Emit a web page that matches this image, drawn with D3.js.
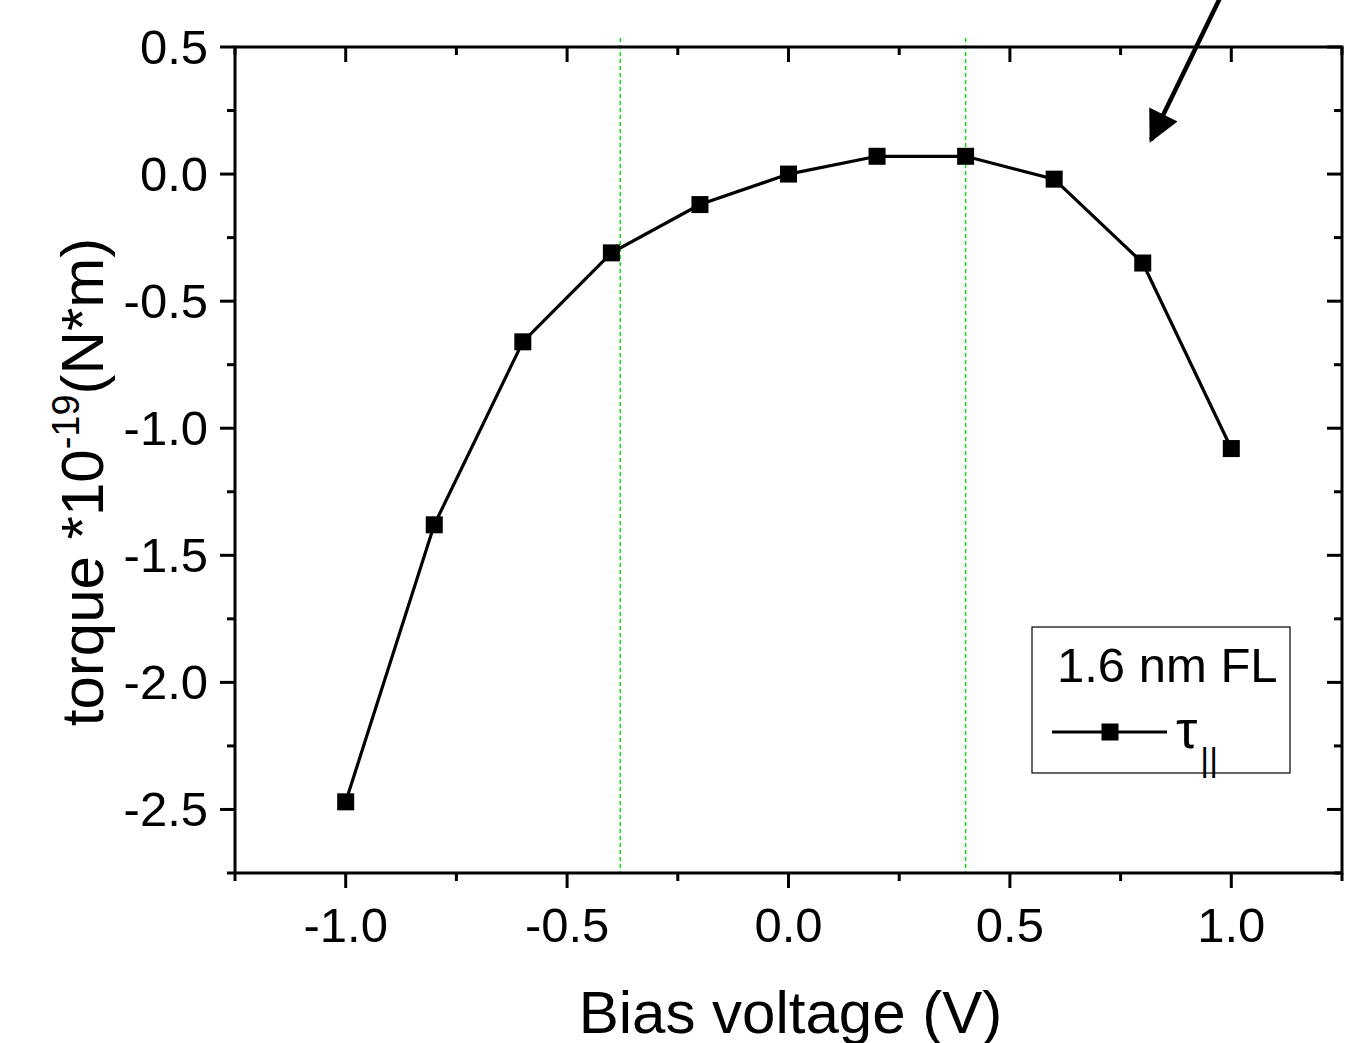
<!DOCTYPE html>
<html>
<head>
<meta charset="utf-8">
<script src="https://cdn.jsdelivr.net/npm/d3@7"></script>
<style>
  body { margin: 0; background: #fff; }
  text { font-family: "Liberation Sans", Arial, sans-serif; fill: #000; }
</style>
</head>
<body>
<div id="chart"></div>
<script>
var biasVoltage = [-1.0, -0.8, -0.6, -0.4, -0.2, 0.0, 0.2, 0.4, 0.6, 0.8, 1.0];
var torque = [-2.47, -1.38, -0.66, -0.31, -0.12, 0.0, 0.07, 0.07, -0.02, -0.35, -1.08];
var markerLines = [-0.38, 0.40];
var xTicks = [-1.0, -0.5, 0.0, 0.5, 1.0];
var yTicks = [0.5, 0.0, -0.5, -1.0, -1.5, -2.0, -2.5];

var width = 1363, height = 1043;
var margin = { top: 47, right: 21, bottom: 170, left: 235 };

var svg = d3.select("#chart").append("svg")
    .attr("width", width)
    .attr("height", height);

var x = d3.scaleLinear().domain([-1.25, 1.25]).range([margin.left, width - margin.right]);
var y = d3.scaleLinear().domain([-2.75, 0.5]).range([height - margin.bottom, margin.top]);

var x0 = x.range()[0], x1 = x.range()[1], y0 = y.range()[0], y1 = y.range()[1];

// green dashed guide lines
svg.selectAll("line.guide")
    .data(markerLines)
    .enter().append("line")
    .attr("class", "guide")
    .attr("x1", d => x(d)).attr("x2", d => x(d))
    .attr("y1", y1 - 9).attr("y2", y0)
    .attr("stroke", "#00e000")
    .attr("stroke-width", 1.4)
    .attr("stroke-dasharray", "4,3");

// frame
svg.append("rect")
    .attr("x", x0).attr("y", y1)
    .attr("width", x1 - x0).attr("height", y0 - y1)
    .attr("fill", "none").attr("stroke", "#000").attr("stroke-width", 3);

var xMinor = d3.range(-1.25, 1.2501, 0.25).filter(v => Math.abs(Math.round(v * 2) - v * 2) > 1e-6);
var yMinor = d3.range(-2.75, 0.5001, 0.25).filter(v => Math.abs(Math.round(v * 2) - v * 2) > 1e-6);

function tickSet(data, len, kind) {
    // bottom: outward, top: inward, left: outward, right: inward
    data.forEach(function (v) {
        if (kind === "x") {
            svg.append("line").attr("x1", x(v)).attr("x2", x(v)).attr("y1", y0).attr("y2", y0 + len)
                .attr("stroke", "#000").attr("stroke-width", 3);
            svg.append("line").attr("x1", x(v)).attr("x2", x(v)).attr("y1", y1).attr("y2", y1 + len)
                .attr("stroke", "#000").attr("stroke-width", 3);
        } else {
            svg.append("line").attr("y1", y(v)).attr("y2", y(v)).attr("x1", x0).attr("x2", x0 - len)
                .attr("stroke", "#000").attr("stroke-width", 3);
            svg.append("line").attr("y1", y(v)).attr("y2", y(v)).attr("x1", x1).attr("x2", x1 - len)
                .attr("stroke", "#000").attr("stroke-width", 3);
        }
    });
}
tickSet(xTicks, 15, "x");
tickSet(xMinor, 8, "x");
tickSet(yTicks, 15, "y");
tickSet(yMinor, 8, "y");

// tick labels
var fmt = d => d3.format(".1f")(d).replace("−", "-");
svg.selectAll("text.xt")
    .data(xTicks)
    .enter().append("text")
    .attr("x", d => x(d))
    .attr("y", 942)
    .attr("text-anchor", "middle")
    .style("font-size", "49px")
    .text(fmt);

svg.selectAll("text.yt")
    .data(yTicks)
    .enter().append("text")
    .attr("x", x0 - 27)
    .attr("y", d => y(d) + 17)
    .attr("text-anchor", "end")
    .style("font-size", "49px")
    .text(fmt);

// axis titles
svg.append("text")
    .attr("x", (x0 + x1) / 2 + 2)
    .attr("y", 1033)
    .attr("text-anchor", "middle")
    .style("font-size", "60px")
    .text("Bias voltage (V)");

var yt = svg.append("text")
    .attr("transform", "translate(103," + 482 + ") rotate(-90)")
    .attr("text-anchor", "middle")
    .style("font-size", "60px");
yt.append("tspan").text("torque *10");
yt.append("tspan").attr("dy", -24).style("font-size", "38px").text("-19");
yt.append("tspan").attr("dy", 24).text("(N*m)");

// data line and markers
var pts = biasVoltage.map((v, i) => [v, torque[i]]);
svg.append("path")
    .datum(pts)
    .attr("fill", "none")
    .attr("stroke", "#000")
    .attr("stroke-width", 3.2)
    .attr("d", d3.line().x(d => x(d[0])).y(d => y(d[1])));

var ms = 17;
svg.selectAll("rect.pt")
    .data(pts)
    .enter().append("rect")
    .attr("class", "pt")
    .attr("x", d => x(d[0]) - ms / 2)
    .attr("y", d => y(d[1]) - ms / 2)
    .attr("width", ms).attr("height", ms)
    .attr("fill", "#000");

// legend
var lg = svg.append("g");
lg.append("rect")
    .attr("x", 1032).attr("y", 627)
    .attr("width", 258).attr("height", 146)
    .attr("fill", "#fff").attr("stroke", "#000").attr("stroke-width", 1.2);
lg.append("text")
    .attr("x", 1057).attr("y", 682)
    .style("font-size", "49px")
    .text("1.6 nm FL");
lg.append("line")
    .attr("x1", 1052).attr("x2", 1167).attr("y1", 732).attr("y2", 732)
    .attr("stroke", "#000").attr("stroke-width", 3.2);
lg.append("rect")
    .attr("x", 1110 - ms / 2).attr("y", 732 - ms / 2)
    .attr("width", ms).attr("height", ms).attr("fill", "#000");
var tau = lg.append("text")
    .attr("x", 1176).attr("y", 748)
    .style("font-size", "54px");
tau.append("tspan").text("τ");
tau.append("tspan").attr("dy", 23).attr("dx", 3).style("font-size", "34px").text("||");

// arrow
var defs = svg.append("defs");
defs.append("marker")
    .attr("id", "arrowhead")
    .attr("viewBox", "0 0 10 10")
    .attr("refX", 9).attr("refY", 5)
    .attr("markerWidth", 8).attr("markerHeight", 7)
    .attr("markerUnits", "strokeWidth")
    .attr("orient", "auto")
    .append("path")
    .attr("d", "M0,0 L10,5 L0,10 Z")
    .attr("fill", "#000");
svg.append("line")
    .attr("x1", 1220).attr("y1", -2)
    .attr("x2", 1151).attr("y2", 140)
    .attr("stroke", "#000")
    .attr("stroke-width", 4.5)
    .attr("marker-end", "url(#arrowhead)");
</script>
</body>
</html>
